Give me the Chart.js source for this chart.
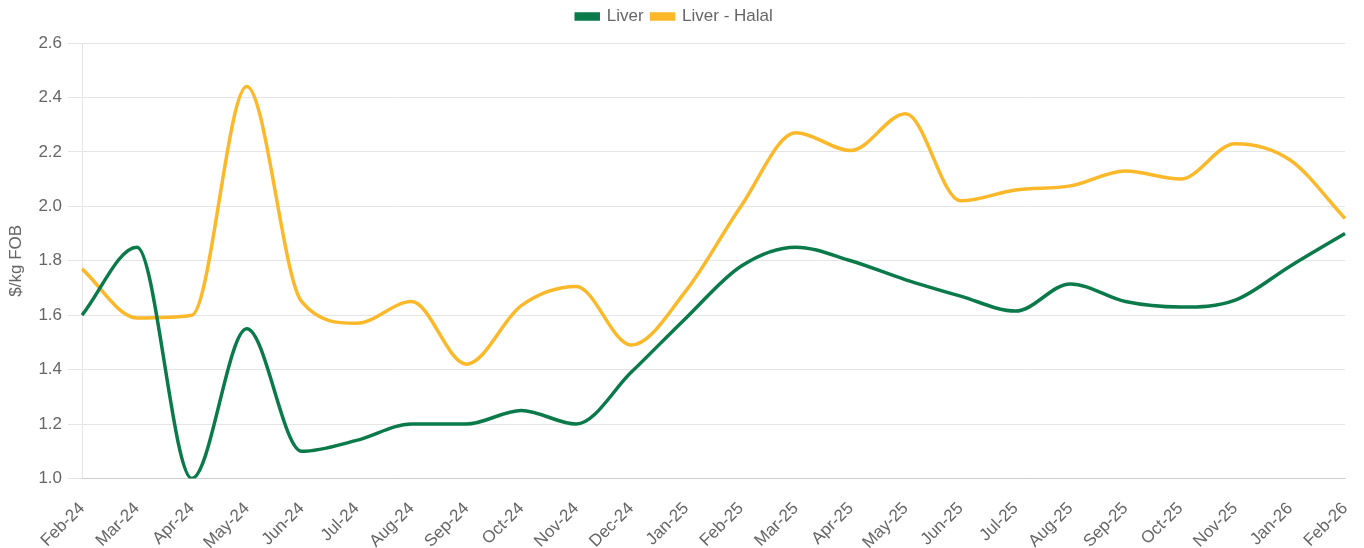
<!DOCTYPE html>
<html>
<head>
<meta charset="utf-8">
<script src="https://cdn.jsdelivr.net/npm/chart.js@4"></script>
<style>
  html, body { margin: 0; padding: 0; background: #fff; }
  #wrap { width: 1364px; height: 548px; }
</style>
</head>
<body>
<div id="wrap"><canvas id="myChart"></canvas></div>
<script>
const months = ['Feb-24', 'Mar-24', 'Apr-24', 'May-24', 'Jun-24', 'Jul-24', 'Aug-24', 'Sep-24', 'Oct-24', 'Nov-24', 'Dec-24', 'Jan-25',
    'Feb-25', 'Mar-25', 'Apr-25', 'May-25', 'Jun-25', 'Jul-25', 'Aug-25', 'Sep-25', 'Oct-25', 'Nov-25', 'Jan-26', 'Feb-26'];
const liver = [1.60, 1.85, 1.00, 1.55, 1.10, 1.14, 1.20, 1.20, 1.25, 1.20, 1.39, 1.59,
    1.78, 1.85, 1.80, 1.73, 1.67, 1.615, 1.715, 1.65, 1.63, 1.655, 1.78, 1.90];
const liverHalal = [1.77, 1.59, 1.60, 2.44, 1.65, 1.57, 1.65, 1.42, 1.635, 1.705, 1.49, 1.69,
    2.00, 2.27, 2.205, 2.34, 2.02, 2.06, 2.075, 2.13, 2.10, 2.23, 2.17, 1.955];
const yTicks = [1.0, 1.2, 1.4, 1.6, 1.8, 2.0, 2.2, 2.4, 2.6];

Chart.defaults.font.family = "'Liberation Sans', Arial, sans-serif";
Chart.defaults.font.size = 17;
Chart.defaults.color = '#666';

// a bit more room under the legend
const legendSpace = {
    id: 'legendSpace',
    beforeInit(chart) {
        const origFit = chart.legend.fit;
        chart.legend.fit = function () {
            origFit.bind(chart.legend)();
            this.height += 8;
        };
    }
};

const ctx = document.getElementById('myChart');

new Chart(ctx, {
    type: 'line',
    data: {
        labels: months,
        datasets: [{
            label: 'Liver',
            data: liver,
            borderColor: '#0b7a4b',
            backgroundColor: '#0b7a4b',
            borderWidth: 3.5,
            pointRadius: 0,
            cubicInterpolationMode: 'monotone'
        }, {
            label: 'Liver - Halal',
            data: liverHalal,
            borderColor: '#fbb829',
            backgroundColor: '#fbb829',
            borderWidth: 3.5,
            pointRadius: 0,
            cubicInterpolationMode: 'monotone'
        }]
    },
    plugins: [legendSpace],
    options: {
        responsive: true,
        maintainAspectRatio: false,
        animation: false,
        layout: { padding: { right: 19, left: 4, top: 0 } },
        plugins: {
            legend: {
                labels: { boxWidth: 22, boxHeight: 5, padding: 8 }
            },
            tooltip: { enabled: false }
        },
        scales: {
            x: {
                grid: { display: false },
                ticks: { autoSkip: false, maxRotation: 45, minRotation: 45, padding: 12 },
                afterFit: (scale) => { scale.height -= 17; scale.paddingRight = 0; }
            },
            y: {
                min: 1.0,
                max: 2.6,
                afterBuildTicks: (axis) => { axis.ticks = yTicks.map(v => ({ value: v })); },
                ticks: { callback: (v) => v.toFixed(1), padding: 6 },
                title: { display: true, text: '$/kg FOB', padding: { top: 2, bottom: 6 } },
                grid: { color: '#e5e5e5', tickLength: 14 }
            }
        }
    }
});
</script>
</body>
</html>
